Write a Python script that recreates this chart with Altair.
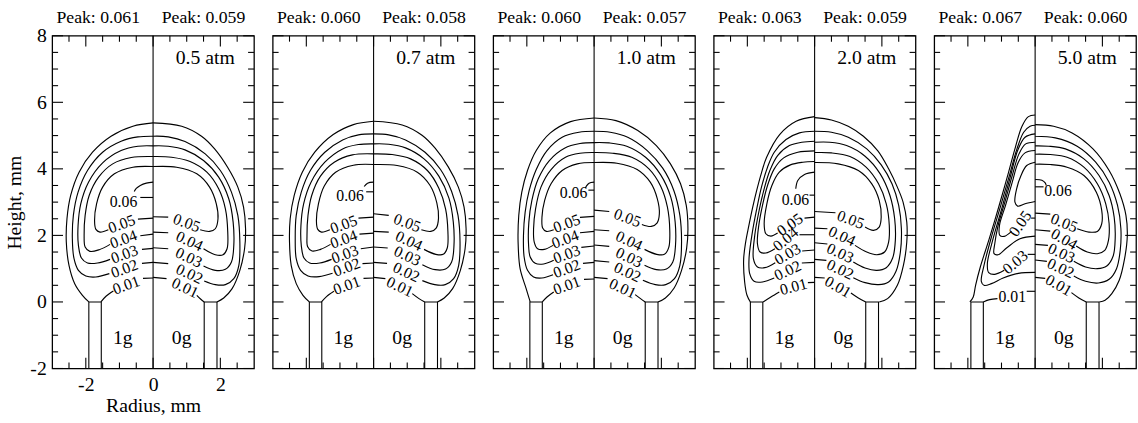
import altair as alt
import pandas as pd

FONT = "Liberation Serif"

PRESSURES = ["0.5 atm", "0.7 atm", "1.0 atm", "2.0 atm", "5.0 atm"]
PEAK_1G = ["0.061", "0.060", "0.060", "0.063", "0.067"]
PEAK_0G = ["0.059", "0.058", "0.057", "0.059", "0.060"]

X_LABELS = [-2, 0, 2]
Y_LABELS = [-2, 0, 2, 4, 6, 8]
X_MAJOR = [-2, 0, 2]
X_MINOR = [-2.5, -1.5, -1, -0.5, 0.5, 1, 1.5, 2.5]
Y_MAJOR = [-2, 0, 2, 4, 6, 8]
Y_MINOR = [-1.5, -1, -0.5, 0.5, 1, 1.5, 2.5, 3, 3.5, 4.5, 5, 5.5, 6.5, 7, 7.5]

# burner tube walls (inner radius, outer radius), mm
TUBE_LEFT = (-1.91, -1.54)
TUBE_RIGHT = (1.52, 1.9)

# ---------------- Panel 1 : 0.5 atm ----------------
P1_SEGS = [
    # left (1g)
    [(0, 0.72), (-0.3, 0.71)],
    [(-1.18, 0.33), (-1.4, 0.17), (-1.55, 0.0)],
    [(-1.91, 0.0), (-2.1, 0.2), (-2.33, 0.55), (-2.5, 1.1), (-2.58, 1.8), (-2.56, 2.5), (-2.45, 3.2),
     (-2.2, 3.9), (-1.8, 4.5), (-1.25, 4.98), (-0.6, 5.28), (0, 5.38)],
    [(0, 1.19), (-0.33, 1.16)],
    [(-1.3, 0.85), (-1.7, 0.75), (-2.0, 0.78), (-2.22, 0.95), (-2.35, 1.3), (-2.4, 1.9), (-2.37, 2.6),
     (-2.23, 3.3), (-1.95, 3.95), (-1.5, 4.5), (-0.95, 4.83), (-0.45, 4.96), (0, 4.98)],
    [(0, 1.61), (-0.33, 1.58)],
    [(-1.28, 1.28), (-1.65, 1.17), (-1.95, 1.17), (-2.13, 1.32), (-2.22, 1.7), (-2.23, 2.3), (-2.15, 2.95),
     (-1.92, 3.6), (-1.5, 4.18), (-0.95, 4.55), (-0.45, 4.68), (0, 4.69)],
    [(0, 2.04), (-0.38, 1.99)],
    [(-1.28, 1.73), (-1.6, 1.57), (-1.88, 1.52), (-2.02, 1.65), (-2.05, 2.0), (-2.02, 2.6), (-1.9, 3.2),
     (-1.62, 3.75), (-1.2, 4.15), (-0.65, 4.34), (0, 4.37)],
    [(0, 2.52), (-0.45, 2.49)],
    [(-1.33, 2.17), (-1.58, 2.1), (-1.7, 2.18), (-1.74, 2.45), (-1.68, 2.95), (-1.5, 3.45), (-1.15, 3.85),
     (-0.6, 4.05), (0, 4.07)],
    [(0, 3.6), (-0.2, 3.57), (-0.38, 3.5), (-0.5, 3.41), (-0.56, 3.32)],
    [(-0.38, 3.14), (0, 3.14)],
    # right (0g)
    [(0, 0.74), (0.4, 0.7)],
    [(1.3, 0.2), (1.42, 0.08), (1.52, 0.0)],
    [(1.9, 0.0), (2.1, 0.12), (2.35, 0.4), (2.58, 0.95), (2.72, 1.6), (2.75, 2.2), (2.69, 2.85), (2.52, 3.45),
     (2.22, 4.04), (1.83, 4.6), (1.44, 4.98), (0.85, 5.28), (0, 5.38)],
    [(0, 1.19), (0.45, 1.15)],
    [(1.52, 0.63), (1.85, 0.52), (2.15, 0.52), (2.4, 0.7), (2.55, 1.1), (2.58, 1.8), (2.52, 2.6), (2.33, 3.3),
     (2.0, 3.95), (1.55, 4.45), (0.95, 4.82), (0.45, 4.96), (0, 4.98)],
    [(0, 1.63), (0.45, 1.6)],
    [(1.5, 1.08), (1.85, 0.95), (2.15, 0.98), (2.33, 1.2), (2.4, 1.7), (2.38, 2.4), (2.25, 3.1), (1.95, 3.75),
     (1.5, 4.25), (0.95, 4.57), (0.45, 4.68), (0, 4.69)],
    [(0, 2.1), (0.45, 2.08)],
    [(1.5, 1.6), (1.85, 1.42), (2.08, 1.42), (2.2, 1.6), (2.22, 2.1), (2.15, 2.8), (1.95, 3.4), (1.6, 3.9),
     (1.1, 4.22), (0.55, 4.35), (0, 4.37)],
    [(0, 2.56), (0.45, 2.55)],
    [(1.4, 2.17), (1.68, 2.12), (1.85, 2.2), (1.93, 2.5), (1.88, 2.95), (1.68, 3.45), (1.3, 3.85), (0.7, 4.05),
     (0, 4.07)],
]
P1_LABELS = [
    ("0.01", -0.8, 0.5, 340), ("0.02", -0.85, 0.99, 340), ("0.03", -0.85, 1.43, 340),
    ("0.04", -0.88, 1.88, 340), ("0.05", -0.93, 2.34, 340), ("0.06", -0.88, 3.0, 0),
    ("0.01", 0.95, 0.42, 25), ("0.02", 1.08, 0.84, 25), ("0.03", 1.06, 1.33, 25),
    ("0.04", 1.08, 1.82, 25), ("0.05", 1.0, 2.37, 20),
]

# ---------------- Panel 2 : 0.7 atm ----------------
P2_SEGS = [
    [(0, 0.72), (-0.3, 0.71)],
    [(-1.18, 0.32), (-1.4, 0.16), (-1.55, 0.0)],
    [(-1.91, 0.0), (-2.1, 0.2), (-2.3, 0.55), (-2.45, 1.1), (-2.5, 1.8), (-2.48, 2.5), (-2.36, 3.2),
     (-2.12, 3.9), (-1.75, 4.5), (-1.2, 5.03), (-0.6, 5.33), (0, 5.43)],
    [(0, 1.17), (-0.33, 1.15)],
    [(-1.22, 0.86), (-1.62, 0.76), (-1.95, 0.78), (-2.17, 0.95), (-2.3, 1.3), (-2.33, 1.9), (-2.3, 2.6),
     (-2.15, 3.3), (-1.88, 3.95), (-1.45, 4.5), (-0.92, 4.87), (-0.45, 5.02), (0, 5.05)],
    [(0, 1.65), (-0.38, 1.6)],
    [(-1.25, 1.28), (-1.6, 1.17), (-1.9, 1.17), (-2.07, 1.32), (-2.15, 1.7), (-2.16, 2.3), (-2.08, 2.95),
     (-1.86, 3.6), (-1.45, 4.2), (-0.92, 4.6), (-0.45, 4.73), (0, 4.75)],
    [(0, 2.07), (-0.42, 2.04)],
    [(-1.28, 1.73), (-1.58, 1.58), (-1.83, 1.53), (-1.96, 1.66), (-1.98, 2.0), (-1.95, 2.6), (-1.84, 3.2),
     (-1.58, 3.78), (-1.17, 4.2), (-0.63, 4.42), (0, 4.45)],
    [(0, 2.55), (-0.45, 2.52)],
    [(-1.3, 2.17), (-1.55, 2.1), (-1.66, 2.18), (-1.7, 2.45), (-1.64, 2.95), (-1.47, 3.48), (-1.13, 3.9),
     (-0.6, 4.11), (0, 4.13)],
    [(0, 3.6), (-0.18, 3.57), (-0.28, 3.47)],
    [(-0.22, 3.31), (0, 3.31)],
    [(0, 0.74), (0.35, 0.7)],
    [(1.15, 0.25), (1.35, 0.1), (1.52, 0.0)],
    [(1.9, 0.0), (2.1, 0.12), (2.35, 0.4), (2.58, 0.95), (2.72, 1.6), (2.75, 2.2), (2.69, 2.85), (2.52, 3.45),
     (2.22, 4.06), (1.83, 4.62), (1.44, 5.01), (0.85, 5.32), (0, 5.43)],
    [(0, 1.19), (0.4, 1.16)],
    [(1.45, 0.64), (1.82, 0.52), (2.13, 0.52), (2.38, 0.7), (2.53, 1.1), (2.57, 1.8), (2.51, 2.6), (2.32, 3.32),
     (1.99, 3.98), (1.53, 4.5), (0.95, 4.87), (0.45, 5.02), (0, 5.05)],
    [(0, 1.65), (0.42, 1.62)],
    [(1.45, 1.12), (1.83, 0.97), (2.14, 0.99), (2.32, 1.2), (2.39, 1.7), (2.37, 2.4), (2.24, 3.12), (1.94, 3.78),
     (1.5, 4.3), (0.95, 4.63), (0.45, 4.74), (0, 4.75)],
    [(0, 2.12), (0.45, 2.1)],
    [(1.5, 1.58), (1.85, 1.43), (2.07, 1.43), (2.19, 1.62), (2.21, 2.1), (2.14, 2.8), (1.94, 3.42), (1.6, 3.95),
     (1.1, 4.3), (0.55, 4.43), (0, 4.45)],
    [(0, 2.65), (0.45, 2.6)],
    [(1.42, 2.17), (1.7, 2.12), (1.86, 2.22), (1.93, 2.52), (1.88, 2.98), (1.68, 3.5), (1.3, 3.9), (0.7, 4.1),
     (0, 4.13)],
]
P2_LABELS = [
    ("0.01", -0.8, 0.49, 340), ("0.02", -0.8, 1.04, 340), ("0.03", -0.85, 1.43, 340),
    ("0.04", -0.89, 1.88, 340), ("0.05", -0.89, 2.32, 340), ("0.06", -0.7, 3.18, 0),
    ("0.01", 0.78, 0.45, 25), ("0.02", 0.97, 0.89, 25), ("0.03", 1.0, 1.38, 25),
    ("0.04", 1.05, 1.83, 25), ("0.05", 1.0, 2.37, 20),
]

# ---------------- Panel 3 : 1.0 atm ----------------
P3_SEGS = [
    [(0, 0.69), (-0.3, 0.68)],
    [(-1.2, 0.3), (-1.4, 0.15), (-1.54, 0.0)],
    [(-1.9, 0.0), (-2.02, 0.4), (-2.2, 1.0), (-2.26, 1.8), (-2.24, 2.6), (-2.15, 3.3), (-1.98, 3.95),
     (-1.72, 4.55), (-1.3, 5.08), (-0.7, 5.42), (0, 5.53)],
    [(0, 1.19), (-0.33, 1.16)],
    [(-1.22, 0.82), (-1.55, 0.72), (-1.8, 0.75), (-1.98, 0.95), (-2.08, 1.35), (-2.1, 2.0), (-2.05, 2.7),
     (-1.93, 3.35), (-1.72, 3.98), (-1.4, 4.55), (-0.95, 4.95), (-0.45, 5.1), (0, 5.13)],
    [(0, 1.68), (-0.38, 1.64)],
    [(-1.2, 1.25), (-1.5, 1.14), (-1.75, 1.16), (-1.9, 1.35), (-1.95, 1.75), (-1.94, 2.4), (-1.85, 3.05),
     (-1.66, 3.7), (-1.33, 4.25), (-0.88, 4.62), (-0.42, 4.76), (0, 4.79)],
    [(0, 2.12), (-0.42, 2.08)],
    [(-1.22, 1.7), (-1.48, 1.58), (-1.68, 1.6), (-1.78, 1.8), (-1.8, 2.2), (-1.74, 2.8), (-1.58, 3.45),
     (-1.28, 3.98), (-0.85, 4.35), (-0.42, 4.47), (0, 4.49)],
    [(0, 2.57), (-0.42, 2.54)],
    [(-1.2, 2.17), (-1.42, 2.12), (-1.53, 2.22), (-1.55, 2.55), (-1.47, 3.05), (-1.28, 3.55), (-0.95, 3.95),
     (-0.5, 4.15), (0, 4.19)],
    [(0, 3.6), (-0.15, 3.57), (-0.23, 3.48), (-0.26, 3.42)],
    [(-0.17, 3.36), (0, 3.36)],
    [(0, 0.74), (0.4, 0.7)],
    [(1.22, 0.22), (1.38, 0.1), (1.52, 0.0)],
    [(1.9, 0.0), (2.12, 0.12), (2.38, 0.42), (2.6, 0.95), (2.75, 1.6), (2.79, 2.2), (2.74, 2.9), (2.57, 3.55),
     (2.27, 4.15), (1.85, 4.7), (1.3, 5.15), (0.65, 5.45), (0, 5.53)],
    [(0, 1.24), (0.45, 1.2)],
    [(1.45, 0.65), (1.82, 0.52), (2.13, 0.52), (2.39, 0.7), (2.55, 1.1), (2.6, 1.8), (2.55, 2.6), (2.37, 3.35),
     (2.04, 4.02), (1.58, 4.55), (1.0, 4.95), (0.48, 5.1), (0, 5.13)],
    [(0, 1.71), (0.45, 1.67)],
    [(1.5, 1.1), (1.85, 0.97), (2.15, 0.99), (2.34, 1.2), (2.42, 1.7), (2.41, 2.4), (2.28, 3.15), (1.98, 3.82),
     (1.53, 4.35), (0.97, 4.68), (0.45, 4.78), (0, 4.79)],
    [(0, 2.17), (0.45, 2.14)],
    [(1.5, 1.58), (1.86, 1.43), (2.09, 1.43), (2.22, 1.64), (2.25, 2.15), (2.18, 2.85), (1.98, 3.48), (1.63, 4.0),
     (1.12, 4.35), (0.55, 4.47), (0, 4.49)],
    [(0, 2.76), (0.45, 2.72)],
    [(1.42, 2.33), (1.7, 2.27), (1.87, 2.37), (1.94, 2.65), (1.88, 3.1), (1.67, 3.6), (1.28, 3.98), (0.68, 4.17),
     (0, 4.19)],
]
P3_LABELS = [
    ("0.01", -0.81, 0.49, 340), ("0.02", -0.81, 0.99, 340), ("0.03", -0.81, 1.43, 340),
    ("0.04", -0.86, 1.88, 340), ("0.05", -0.81, 2.35, 340), ("0.06", -0.61, 3.26, 0),
    ("0.01", 0.85, 0.4, 25), ("0.02", 0.99, 0.89, 25), ("0.03", 1.04, 1.33, 25),
    ("0.04", 1.04, 1.83, 25), ("0.05", 0.99, 2.52, 20),
]

# ---------------- Panel 4 : 2.0 atm ----------------
P4_SEGS = [
    [(0, 0.59), (-0.2, 0.58)],
    [(-1.05, 0.3), (-1.3, 0.15), (-1.53, 0.0)],
    [(-1.91, 0.0), (-2.01, 0.2), (-2.08, 0.6), (-2.11, 1.28), (-2.05, 1.8), (-1.96, 2.27), (-1.84, 2.85),
     (-1.72, 3.36), (-1.58, 3.88), (-1.43, 4.34), (-1.04, 5.03), (-0.55, 5.43), (0, 5.57)],
    [(0, 1.19), (-0.38, 1.17)],
    [(-1.2, 0.72), (-1.55, 0.6), (-1.8, 0.62), (-1.93, 0.85), (-1.95, 1.3), (-1.85, 2.1), (-1.72, 2.8),
     (-1.58, 3.45), (-1.4, 4.05), (-1.2, 4.5), (-0.85, 4.88), (-0.45, 5.08), (0, 5.13)],
    [(0, 1.56), (-0.37, 1.53)],
    [(-1.17, 1.18), (-1.48, 1.03), (-1.7, 1.05), (-1.82, 1.3), (-1.78, 2.0), (-1.65, 2.75), (-1.5, 3.4),
     (-1.33, 3.95), (-1.1, 4.4), (-0.75, 4.7), (-0.38, 4.8), (0, 4.83)],
    [(0, 2.02), (-0.45, 2.02)],
    [(-1.18, 1.6), (-1.45, 1.47), (-1.62, 1.5), (-1.7, 1.75), (-1.66, 2.3), (-1.54, 2.95), (-1.4, 3.5),
     (-1.2, 4.0), (-0.92, 4.33), (-0.5, 4.5), (0, 4.54)],
    [(0, 2.55), (-0.3, 2.52)],
    [(-1.1, 2.07), (-1.3, 1.98), (-1.45, 2.05), (-1.5, 2.35), (-1.42, 2.95), (-1.27, 3.5), (-1.05, 3.9),
     (-0.72, 4.12), (-0.35, 4.2), (0, 4.22)],
    [(0, 3.9), (-0.3, 3.83), (-0.5, 3.65), (-0.56, 3.4)],
    [(-0.15, 3.21), (0, 3.21)],
    [(0, 0.74), (0.3, 0.72)],
    [(1.08, 0.27), (1.3, 0.12), (1.52, 0.0)],
    [(1.92, 0.0), (2.17, 0.1), (2.46, 0.5), (2.64, 1.1), (2.74, 1.8), (2.74, 2.4), (2.63, 3.0), (2.46, 3.45),
     (2.2, 4.0), (1.88, 4.54), (1.45, 4.98), (1.0, 5.28), (0.5, 5.47), (0, 5.54)],
    [(0, 1.28), (0.35, 1.25)],
    [(1.15, 0.73), (1.5, 0.58), (1.9, 0.52), (2.2, 0.6), (2.42, 0.92), (2.55, 1.5), (2.58, 2.2), (2.5, 2.9),
     (2.3, 3.55), (1.98, 4.12), (1.55, 4.6), (1.0, 4.95), (0.5, 5.1), (0, 5.13)],
    [(0, 1.78), (0.38, 1.74)],
    [(1.15, 1.2), (1.5, 1.02), (1.85, 0.95), (2.13, 1.03), (2.32, 1.32), (2.4, 1.85), (2.38, 2.5), (2.24, 3.2),
     (1.95, 3.85), (1.5, 4.38), (0.95, 4.7), (0.45, 4.8), (0, 4.8)],
    [(0, 2.22), (0.38, 2.2)],
    [(1.2, 1.7), (1.55, 1.5), (1.85, 1.42), (2.08, 1.5), (2.2, 1.8), (2.22, 2.3), (2.13, 2.95), (1.9, 3.55),
     (1.53, 4.05), (1.05, 4.37), (0.5, 4.48), (0, 4.49)],
    [(0, 2.72), (0.62, 2.68)],
    [(1.5, 2.25), (1.75, 2.15), (1.92, 2.25), (1.98, 2.55), (1.92, 3.05), (1.7, 3.55), (1.3, 3.95), (0.7, 4.15),
     (0, 4.19)],
]
P4_LABELS = [
    ("0.01", -0.63, 0.45, 345), ("0.02", -0.8, 0.94, 335), ("0.03", -0.8, 1.43, 330),
    ("0.04", -0.86, 1.88, 320), ("0.05", -0.73, 2.32, 325), ("0.06", -0.57, 3.06, 0),
    ("0.01", 0.69, 0.45, 30), ("0.02", 0.76, 0.97, 25), ("0.03", 0.76, 1.46, 25),
    ("0.04", 0.81, 1.97, 25), ("0.05", 1.07, 2.47, 20),
]

# ---------------- Panel 5 : 5.0 atm ----------------
P5_SEGS = [
    [(0, 0.32), (-0.25, 0.32)],
    [(-1.12, 0.1), (-1.35, 0.07), (-1.54, 0.0)],
    [(-1.94, 0.0), (-1.84, 0.15), (-1.77, 0.5), (-1.63, 1.05), (-1.37, 1.88), (-1.08, 2.86), (-0.83, 3.75),
     (-0.59, 4.64), (-0.39, 5.28), (-0.2, 5.57), (0, 5.62)],
    [(0, 0.89), (-0.5, 0.86), (-0.95, 0.72), (-1.3, 0.55), (-1.52, 0.5), (-1.6, 0.62), (-1.52, 1.1),
     (-1.3, 1.95), (-1.02, 2.9), (-0.77, 3.78), (-0.54, 4.6), (-0.34, 5.1), (-0.15, 5.28), (0, 5.31)],
    [(0, 1.43), (-0.22, 1.43)],
    [(-0.92, 0.95), (-1.2, 0.83), (-1.38, 0.88), (-1.42, 1.15), (-1.25, 1.9), (-0.98, 2.85), (-0.74, 3.75),
     (-0.52, 4.55), (-0.3, 4.95), (0, 5.05)],
    [(0, 1.98), (-0.45, 1.9), (-0.85, 1.62), (-1.1, 1.42), (-1.22, 1.45), (-1.2, 1.75), (-1.1, 2.3),
     (-0.9, 3.0), (-0.68, 3.8), (-0.48, 4.45), (-0.28, 4.75), (0, 4.8)],
    [(0, 2.52), (-0.12, 2.52)],
    [(-0.7, 2.12), (-0.92, 1.97), (-1.05, 2.0), (-1.06, 2.3), (-0.88, 2.9), (-0.68, 3.6), (-0.5, 4.2),
     (-0.3, 4.48), (0, 4.55)],
    [(0, 3.02), (-0.3, 2.95), (-0.52, 2.88), (-0.6, 3.0), (-0.55, 3.4), (-0.42, 3.8), (-0.25, 4.1), (0, 4.2)],
    [(0, 0.74), (0.3, 0.71)],
    [(1.08, 0.28), (1.3, 0.12), (1.52, 0.0)],
    [(1.91, 0.0), (2.08, 0.05), (2.28, 0.25), (2.5, 0.65), (2.66, 1.3), (2.74, 1.98), (2.7, 2.6), (2.52, 3.25),
     (2.2, 3.95), (1.72, 4.6), (1.1, 5.08), (0.55, 5.28), (0, 5.33)],
    [(0, 1.26), (0.35, 1.22)],
    [(1.15, 0.78), (1.5, 0.62), (1.88, 0.57), (2.2, 0.68), (2.42, 1.0), (2.53, 1.55), (2.55, 2.2), (2.45, 2.9),
     (2.2, 3.6), (1.8, 4.2), (1.25, 4.68), (0.6, 4.93), (0, 4.98)],
    [(0, 1.73), (0.38, 1.7)],
    [(1.15, 1.22), (1.5, 1.05), (1.85, 1.0), (2.13, 1.08), (2.32, 1.38), (2.38, 1.9), (2.35, 2.55), (2.2, 3.2),
     (1.9, 3.8), (1.45, 4.3), (0.9, 4.6), (0.4, 4.68), (0, 4.69)],
    [(0, 2.17), (0.45, 2.13)],
    [(1.22, 1.68), (1.55, 1.5), (1.85, 1.45), (2.07, 1.55), (2.18, 1.85), (2.2, 2.35), (2.1, 2.95), (1.85, 3.55),
     (1.45, 4.05), (0.95, 4.35), (0.45, 4.43), (0, 4.44)],
    [(0, 2.67), (0.45, 2.64)],
    [(1.25, 2.2), (1.6, 2.1), (1.85, 2.12), (1.98, 2.35), (1.98, 2.75), (1.82, 3.3), (1.45, 3.8), (0.95, 4.05),
     (0.45, 4.13), (0, 4.14)],
    [(0, 3.68), (0.2, 3.66), (0.3, 3.58), (0.33, 3.5)],
    [(0, 3.46), (0.25, 3.46)],
]
P5_LABELS = [
    ("0.01", -0.68, 0.15, 0), ("0.03", -0.59, 1.19, 320), ("0.05", -0.44, 2.35, 305),
    ("0.06", 0.68, 3.33, 0),
    ("0.01", 0.7, 0.5, 30), ("0.02", 0.76, 1.01, 25), ("0.03", 0.78, 1.46, 25),
    ("0.04", 0.86, 1.88, 30), ("0.05", 0.86, 2.37, 22),
]

ALL_SEGS = [P1_SEGS, P2_SEGS, P3_SEGS, P4_SEGS, P5_SEGS]
ALL_LABELS = [P1_LABELS, P2_LABELS, P3_LABELS, P4_LABELS, P5_LABELS]

W, H = 205, 338
MAJ, MIN = 11, 6


def make_panel(i):
    first = i == 0
    xs = alt.Scale(domain=[-3, 3], nice=False, zero=False)
    ys = alt.Scale(domain=[-2, 8], nice=False, zero=False)
    if first:
        xax = alt.Axis(values=X_LABELS, ticks=False, domain=False, grid=False, labelFont=FONT,
                       labelFontSize=20, labelColor="black", labelPadding=6,
                       labelExpr="datum.value + ''", title="Radius, mm", titleFont=FONT,
                       titleFontSize=20, titleFontWeight="normal", titleColor="black",
                       titlePadding=2)
        yax = alt.Axis(values=Y_LABELS, ticks=False, domain=False, grid=False, labelFont=FONT,
                       labelFontSize=20, labelColor="black", labelPadding=6,
                       labelExpr="datum.value + ''", title="Height, mm", titleFont=FONT,
                       titleFontSize=20, titleFontWeight="normal", titleColor="black",
                       titlePadding=5)
    else:
        xax = None
        yax = None

    def X(f):
        return alt.X(f, type="quantitative", scale=xs, axis=xax)

    def Y(f):
        return alt.Y(f, type="quantitative", scale=ys, axis=yax)

    rows = []
    for k, seg in enumerate(ALL_SEGS[i]):
        for j, (r, z) in enumerate(seg):
            rows.append({"seg": k, "o": j, "r": r, "z": z})
    lines = alt.Chart(pd.DataFrame(rows)).mark_line(
        color="black", strokeWidth=1.15, interpolate="catmull-rom"
    ).encode(x=X("r"), y=Y("z"), detail="seg:N", order="o:Q")

    lab = pd.DataFrame(ALL_LABELS[i], columns=["t", "r", "z", "a"])
    labels = alt.Chart(lab).mark_text(font=FONT, fontSize=16, color="black",
                                      align="center", baseline="middle").encode(
        x=X("r"), y=Y("z"), text="t:N", angle=alt.Angle("a:Q", scale=None))

    center = alt.Chart(pd.DataFrame({"r": [0]})).mark_rule(color="black", strokeWidth=1.1).encode(
        x=X("r"))

    tubes = alt.Chart(pd.DataFrame({
        "a": [TUBE_LEFT[0], TUBE_RIGHT[0]], "b": [TUBE_LEFT[1], TUBE_RIGHT[1]],
        "lo": [-2, -2], "hi": [0, 0]})).mark_rect(
        fill="white", stroke="black", strokeWidth=1.1).encode(
        x=X("a"), x2="b", y=Y("lo"), y2="hi")

    def yticks(vals, length):
        d = pd.DataFrame({"v": vals})
        left = alt.Chart(d).mark_rule(color="black", strokeWidth=1.1).encode(
            y=Y("v"), x=alt.value(0), x2=alt.value(length))
        right = alt.Chart(d).mark_rule(color="black", strokeWidth=1.1).encode(
            y=Y("v"), x=alt.value(W), x2=alt.value(W - length))
        return [left, right]

    def xticks(vals, length):
        d = pd.DataFrame({"v": vals})
        top = alt.Chart(d).mark_rule(color="black", strokeWidth=1.1).encode(
            x=X("v"), y=alt.value(0), y2=alt.value(length))
        bot = alt.Chart(d).mark_rule(color="black", strokeWidth=1.1).encode(
            x=X("v"), y=alt.value(H), y2=alt.value(H - length))
        return [top, bot]

    texts = pd.DataFrame({"t": [PRESSURES[i], "1g", "0g"], "r": [1.55, -0.9, 0.85],
                          "z": [7.33, -1.08, -1.08]})
    inner = alt.Chart(texts).mark_text(font=FONT, fontSize=20, color="black",
                                       align="center", baseline="middle").encode(
        x=X("r"), y=Y("z"), text="t:N")

    peaks = pd.DataFrame({"t": ["Peak: " + PEAK_1G[i], "Peak: " + PEAK_0G[i]], "r": [-1.63, 1.5]})
    peak = alt.Chart(peaks).mark_text(font=FONT, fontSize=18, color="black",
                                      align="center", baseline="middle").encode(
        x=X("r"), y=alt.value(-18), text="t:N")

    layers = [tubes, lines, center, labels, inner, peak]
    layers += yticks(Y_MAJOR, MAJ) + yticks(Y_MINOR, MIN)
    layers += xticks(X_MAJOR, MAJ) + xticks(X_MINOR, MIN)
    return alt.layer(*layers).properties(width=W, height=H)


chart = alt.hconcat(*[make_panel(i) for i in range(5)], spacing=15).configure_view(
    stroke="black", strokeWidth=1.3
).properties(padding={"left": 4, "top": 5, "right": 0, "bottom": 0})

chart.save("out.html", embed_options={"renderer": "svg", "actions": False})
